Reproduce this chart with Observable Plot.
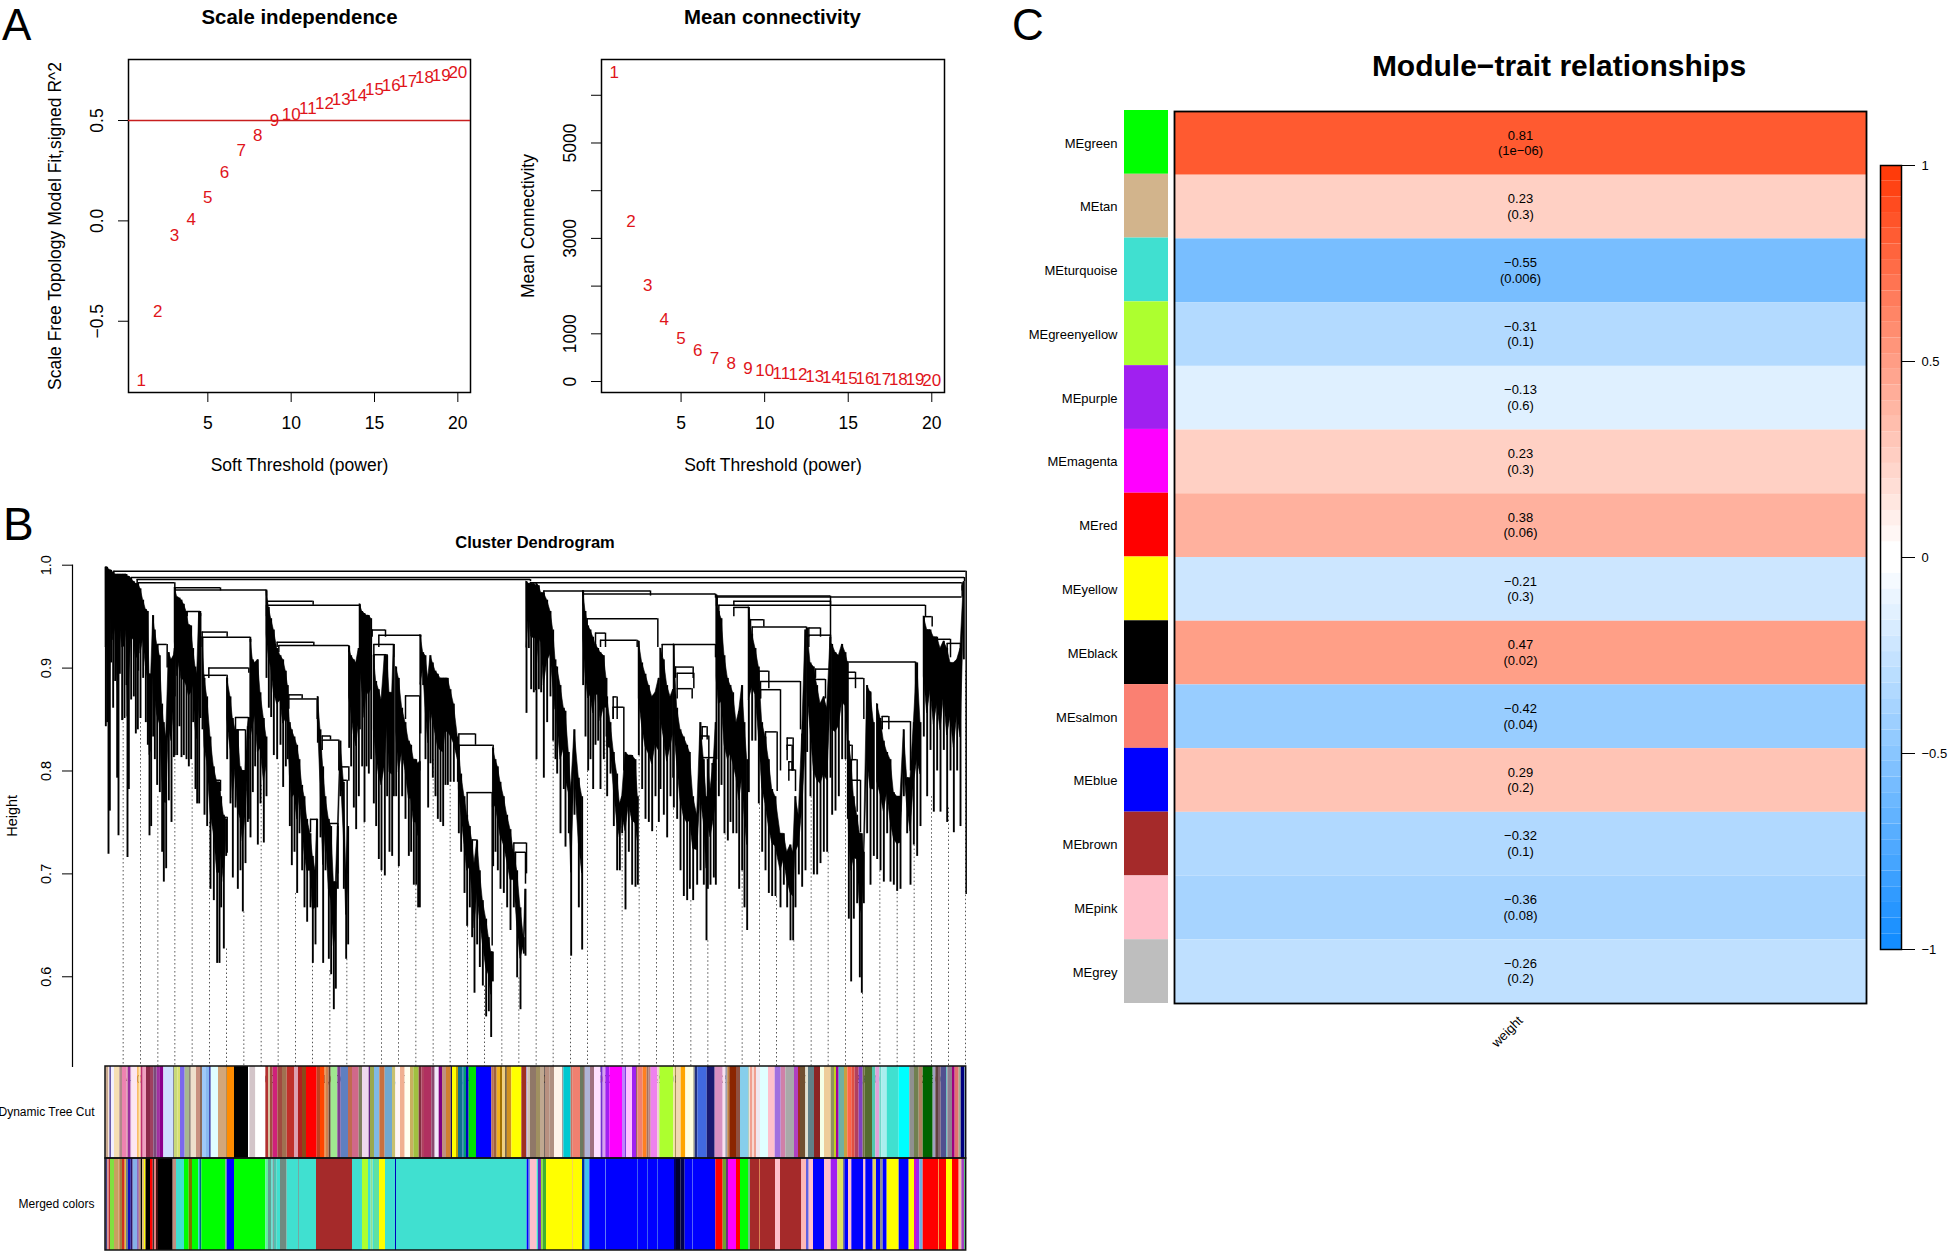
<!DOCTYPE html>
<html><head><meta charset="utf-8">
<script src="https://cdn.jsdelivr.net/npm/d3@7"></script>
<script src="https://cdn.jsdelivr.net/npm/@observablehq/plot@0.6"></script>
<style>
html,body{margin:0;padding:0;background:#fff;overflow:hidden}
#page{position:relative;width:1951px;height:1252px;font-family:"Liberation Sans",Arial,sans-serif;color:#000}
#page>svg{position:absolute;overflow:visible}
.t{position:absolute;white-space:nowrap;line-height:1}
</style></head><body><div id="page"></div>
<script>
// ---------- Panel A ----------
const powers=[1,2,3,4,5,6,7,8,9,10,11,12,13,14,15,16,17,18,19,20];
const scaleFit=[-.793,-.45,-.071,.006,.118,.242,.352,.425,.498,.53,.558,.583,.605,.625,.655,.674,.696,.713,.726,.738];
const meanConn=[6478,3360,2012,1300,895,650,475,370,280,230,175,147,112,90,72,60,50,42,35,30];
// ---------- Panel B : dendrogram: [leaf position, top height, bottom height]
const cl01=[[316,.998,.843],[320,.998,.847],[324,.996,.719],[328,.995,.761],[332,.995,.905],[338,.993,.861],[344,.991,.887],[350,.991,.793],[354,.991,.737],[358,.991,.894],[365,.991,.849],[372,.991,.851],[378,.991,.883],[381,.989,.716],[385,.989,.782],[392,.987,.869],[400,.984,.872],[406,.982,.836],[412,.982,.84]];
const cl02=[[413,.982,.897],[420,.977,.851],[428,.966,.89],[436,.957,.847],[442,.955,.825],[447,.894,.737],[452,.894,.746],[458,.951,.833],[463,.937,.811],[470,.923,.786],[478,.912,.779],[485,.865,.721],[490,.847,.692],[497,.833,.705],[505,.915,.771],[513,.908,.75],[520,.912,.813],[523,.919,.815]];
const cl03=[[523,.978,.872],[530,.969,.815],[537,.968,.843],[543,.966,.813],[550,.962,.815],[558,.955,.811],[565,.942,.804],[572,.941,.811],[578,.919,.847],[585,.901,.782],[590,.894,.768],[596,.955,.768],[600,.953,.851]];
const cl04=[[606,.93,.84],[612,.89,.757],[620,.872,.746],[630,.833,.685],[640,.804,.674],[650,.789,.613],[657,.789,.613],[662,.775,.667],[670,.757,.627],[677,.753,.717]];
const cl05=[[680,.89,.811],[690,.872,.768],[697,.851,.696],[705,.84,.764],[712,.84,.685],[720,.804,.703],[727,.8,.663],[735,.8,.71],[742,.843,.75],[745,.852,.753]];
const cl06=[[750,.928,.735],[757,.908,.779],[764,.905,.804],[772,.908,.728],[780,.876,.768],[790,.851,.73],[798,.833,.775]];
const cl07=[[798,.975,.89],[805,.959,.861],[812,.948,.852],[820,.937,.815],[830,.919,.811],[840,.912,.825],[848,.908,.784],[856,.897,.804],[862,.883,.811],[868,.847,.746],[874,.84,.708],[882,.833,.721],[890,.825,.681],[897,.811,.739],[905,.786,.703],[912,.775,.667],[920,.753,.653],[930,.739,.667],[937,.717,.613],[945,.703,.631],[950,.753,.667]];
const cl08=[[952,.872,.827],[960,.84,.735],[968,.804,.613],[975,.775,.703],[985,.753,.617],[992,.746,.602],[1000,.692,.568],[1006,.692,.588],[1012,.746,.685],[1020,.829,.775],[1030,.789,.685],[1037,.703,.617],[1043,.746,.631]];
const cl09=[[1046,.921,.822],[1052,.912,.804],[1060,.908,.764],[1067,.905,.743],[1075,.919,.775]];
const cl10=[[1078,.962,.84],[1085,.955,.804],[1092,.953,.75],[1098,.951,.804],[1105,.951,.797],[1112,.948,.811]];
const cl11=[[1120,.912,.768],[1127,.887,.746],[1135,.879,.714],[1143,.869,.703],[1153,.912,.698],[1160,.912,.775],[1167,.876,.721],[1175,.876,.717],[1180,.923,.775]];
const cl12=[[1187,.901,.775],[1195,.89,.707],[1205,.861,.775],[1215,.847,.753],[1225,.829,.717],[1232,.825,.721],[1240,.811,.689],[1247,.811,.689],[1253,.807,.667],[1258,.809,.667]];
const cl13=[[1260,.932,.836],[1268,.915,.883],[1275,.912,.811],[1283,.89,.764],[1290,.912,.807],[1297,.905,.793],[1305,.897,.775],[1312,.894,.753],[1320,.89,.75],[1328,.89,.746],[1335,.89,.786],[1342,.89,.786],[1350,.879,.789],[1360,.865,.789],[1372,.833,.789]];
const cl14=[[1375,.825,.739],[1382,.797,.721],[1392,.775,.681],[1400,.757,.649],[1408,.746,.667],[1415,.732,.638],[1422,.71,.584],[1430,.732,.631],[1438,.703,.609],[1447,.674,.591],[1457,.656,.561],[1465,.638,.566],[1472,.624,.541],[1477,.624,.595]];
const cl15=[[1478,.822,.707],[1485,.811,.721],[1492,.804,.703],[1500,.789,.685],[1510,.775,.681],[1520,.757,.667],[1530,.743,.645],[1540,.721,.667],[1550,.703,.599],[1560,.667,.568],[1570,.638,.622],[1575,.685,.62]];
const cl16=[[1578,.984,.856],[1585,.982,.919],[1592,.982,.879],[1600,.982,.876],[1606,.98,.878]];
const cl17=[[1608,.982,.811],[1615,.98,.879],[1622,.973,.876],[1630,.973,.793],[1640,.966,.847],[1650,.955,.872],[1658,.937,.829],[1665,.908,.811]];
const cl18=[[1670,.901,.797],[1680,.883,.739],[1690,.861,.782],[1695,.858,.726],[1705,.818,.739],[1712,.782,.62],[1722,.84,.757],[1735,.793,.667],[1745,.775,.626]];
const cl19=[[1748,.975,.883],[1755,.955,.833],[1763,.941,.8],[1770,.937,.811],[1778,.93,.782],[1785,.923,.825],[1793,.919,.829],[1800,.915,.782],[1810,.912,.811],[1818,.89,.833]];
const cl20=[[1820,.872,.775],[1830,.847,.797],[1840,.818,.746],[1850,.797,.703],[1858,.768,.703],[1865,.775,.739],[1875,.818,.665],[1885,.815,.721],[1895,.815,.689],[1905,.811,.687],[1912,.775,.689]];
const cl21=[[1915,.926,.815],[1925,.905,.782],[1935,.894,.753],[1945,.883,.75],[1955,.872,.741],[1965,.876,.775],[1975,.89,.75]];
const cl22=[[1980,.919,.782],[1990,.908,.757],[2000,.883,.735],[2010,.872,.775],[2018,.879,.793]];
const cl23=[[2020,.923,.764],[2030,.861,.753],[2040,.84,.703],[2050,.833,.678],[2060,.825,.674],[2068,.818,.685],[2078,.775,.674],[2090,.757,.689],[2100,.847,.703],[2110,.811,.689],[2118,.775,.635]];
const cl24=[[2122,.811,.685],[2130,.782,.689],[2140,.811,.696],[2146,.847,.689]];
const cl25=[[2148,.971,.811],[2155,.955,.775],[2163,.948,.786],[2172,.912,.739],[2182,.89,.732],[2190,.883,.75],[2198,.876,.739],[2208,.847,.739],[2216,.858,.685],[2225,.883,.703],[2232,.847,.667],[2240,.811,.645]];
const cl26=[[2245,.959,.779],[2255,.933,.829],[2265,.919,.829],[2275,.901,.768],[2285,.847,.721],[2295,.833,.703],[2305,.811,.681],[2315,.782,.678],[2325,.775,.678],[2340,.739,.667],[2350,.739,.689],[2360,.721,.667],[2370,.728,.635],[2378,.721,.635],[2385,.775,.667],[2395,.757,.699],[2405,.836,.687],[2415,.937,.703]];
const cl27=[[2420,.939,.818],[2430,.905,.775],[2440,.901,.699],[2450,.883,.699],[2460,.865,.71],[2470,.872,.721],[2480,.861,.721],[2490,.93,.793]];
const cl28=[[2495,.923,.757],[2505,.915,.761],[2515,.912,.775],[2525,.923,.811],[2535,.915,.811],[2542,.905,.753]];
const cl29=[[2545,.829,.656],[2552,.811,.595],[2560,.775,.656],[2570,.757,.671],[2578,.739,.599],[2584,.739,.584],[2590,.721,.671],[2600,.883,.739],[2610,.876,.689],[2620,.847,.717]];
const cl30=[[2630,.865,.714],[2640,.851,.703],[2650,.829,.692],[2660,.818,.739],[2670,.811,.692],[2680,.779,.689],[2690,.775,.683],[2700,.775,.685],[2710,.84,.775],[2720,.793,.739],[2730,.793,.689],[2740,.847,.728],[2750,.905,.717],[2760,.847,.746]];
const cl31=[[2770,.95,.833],[2780,.937,.775],[2790,.937,.82],[2800,.93,.76],[2810,.93,.8],[2820,.919,.76],[2830,.926,.82],[2840,.919,.75],[2850,.905,.8],[2860,.905,.74],[2870,.908,.8],[2880,.919,.746],[2890,.984,.908]];
const clusters=[cl01,cl02,cl03,cl04,cl05,cl06,cl07,cl08,cl09,cl10,cl11,cl12,cl13,cl14,cl15,cl16,cl17,cl18,cl19,cl20,cl21,cl22,cl23,cl24,cl25,cl26,cl27,cl28,cl29,cl30,cl31];
// merges: [left leaf, right leaf, merge height, left leg end, right leg end]
const merges=[[340,2897,.994,.99,.68],[392,2892,.988,.984,.984],[410,1590,.986,.982,.984],[1590,2885,.983,.982,.975],[413,523,.983,.97,.975],[523,798,.976,.975,.97],[523,660,.978,.975,.975],[798,1078,.961,.95,.955],[800,938,.965,.96,.961],[835,1045,.922,.915,.915],[830,940,.925,.92,.922],[605,750,.93,.92,.925],[605,680,.935,.93,.93],[625,745,.9,.89,.895],[610,680,.893,.885,.885],[865,950,.87,.86,.85],[865,905,.874,.87,.87],[965,1015,.83,.82,.8],[965,990,.834,.83,.83],[1022,1045,.804,.78,.79],[1025,1040,.791,.78,.7],[930,950,.753,.74,.72],[985,1012,.749,.74,.7],[1135,1260,.932,.92,.93],[1115,1155,.937,.93,.93],[1120,1180,.923,.91,.91],[1120,1160,.913,.9,.9],[1215,1258,.873,.85,.8],[1375,1425,.836,.82,.825],[1375,1478,.825,.8,.82],[1400,1475,.779,.75,.63],[1415,1430,.733,.7,.71],[645,660,.791,.77,.78],[670,680,.755,.73,.72],[705,745,.852,.84,.84],[712,735,.84,.82,.8],[720,735,.8,.78,.78],[560,600,.955,.95,.95],[472,500,.923,.91,.9],[1540,1578,.73,.7,.7],[1545,1575,.721,.7,.69],[1630,1747,.975,.96,.97],[1748,1950,.975,.97,.97],[1748,2145,.972,.96,.968],[1760,1972,.948,.94,.92],[1800,1910,.927,.92,.92],[1785,1815,.934,.92,.92],[1838,1850,.872,.85,.85],[1838,1870,.862,.85,.8],[1985,2145,.923,.91,.91],[2025,2078,.901,.89,.89],[2030,2080,.895,.88,.88],[2030,2075,.88,.87,.87],[2105,2120,.843,.83,.83],[2100,2125,.834,.82,.78],[2105,2145,.813,.8,.8],[2135,2145,.807,.79,.79],[2148,2490,.97,.96,.93],[2150,2885,.969,.96,.98],[2155,2775,.961,.95,.95],[2200,2490,.965,.96,.961],[2200,2245,.959,.95,.95],[2250,2290,.947,.94,.94],[2255,2418,.94,.93,.93],[2425,2490,.932,.92,.92],[2425,2460,.939,.93,.93],[2445,2490,.899,.89,.88],[2440,2475,.889,.88,.87],[2280,2400,.887,.87,.84],[2280,2340,.879,.87,.8],[2275,2305,.897,.88,.88],[2295,2330,.838,.82,.78],[2360,2378,.832,.82,.8],[2360,2375,.825,.81,.8],[2365,2375,.809,.8,.8],[2365,2385,.801,.79,.78],[2540,2745,.906,.89,.85],[2540,2565,.896,.88,.88],[2540,2590,.89,.88,.85],[2600,2610,.877,.86,.86],[2645,2730,.848,.84,.8],[2645,2665,.853,.84,.84],[2720,2725,.793,.78,.78],[2690,2700,.775,.76,.76],[2545,2570,.811,.8,.76],[2545,2555,.825,.81,.81],[2550,2580,.791,.77,.74],[2770,2795,.95,.94,.94],[2810,2850,.928,.92,.91],[2840,2880,.924,.91,.9]];
const guideLeaves=[368,420,472,523,575,627,678,730,782,833,885,936,988,1039,1091,1143,1194,1246,1298,1349,1401,1452,1504,1555,1607,1658,1710,1761,1813,1865,1916,1968,2019,2071,2122,2174,2225,2277,2328,2380,2432,2483,2535,2586,2638,2690,2741,2793,2844,2895];
const guideTops=[.851,.847,.775,.815,.807,.75,.627,.663,.786,.807,.681,.653,.606,.617,.75,.703,.707,.689,.811,.786,.649,.591,.671,.599,.811,.829,.618,.8,.829,.746,.815,.746,.775,.674,.635,.739,.703,.768,.678,.635,.775,.721,.811,.584,.703,.685,.728,.775,.764,.897];
// colour tracks: stripes as [leaf end within stretch, colour]
const stretchStarts=[300,960,1620,2250];
const dynamic1=[[24,"#c9a990"],[28,"#f5e4d4"],[33,"#6a5aa8"],[42,"#f2efff"],[58,"#f5deb3"],[66,"#b08a8a"],[80,"#ee82b0"],[84,"#d090b0"],[92,"#9b30a0"],[96,"#f8e0f0"],[112,"#fde6f0"],[116,"#f5a020"],[122,"#ffe4b0"],[128,"#c03070"],[138,"#f0a0c0"],[150,"#8b2a4a"],[160,"#a04060"],[170,"#7a4a7a"],[178,"#a030a0"],[190,"#8b008b"],[220,"#cfe0ff"],[222,"#556"],[232,"#c8d878"],[240,"#d8e070"],[254,"#7b68ee"],[268,"#a8b890"],[272,"#6a5a50"],[288,"#eedfcc"],[300,"#c89080"],[306,"#8a6a5a"],[318,"#9ec8f8"],[328,"#87b8f0"],[332,"#000090"],[354,"#e0ffff"],[378,"#d2a679"],[380,"#554"],[402,"#ff8c00"],[444,"#000"],[448,"#fff"],[466,"#d3c5c9"],[496,"#fff"],[504,"#b23030"],[510,"#d8c0a0"],[518,"#a05040"],[532,"#d0207a"],[546,"#a04a40"],[560,"#a07050"],[582,"#c0302a"],[594,"#dda0b0"],[606,"#b02020"],[618,"#8a4a1a"],[650,"#f00"],[660,"#c04020"]];
const dynamic2=[[14,"#ff4500"],[18,"#e0a060"],[26,"#d08050"],[32,"#604030"],[52,"#a0e890"],[62,"#804090"],[84,"#5f7fc0"],[96,"#c06a50"],[116,"#d0688a"],[126,"#7f7f60"],[146,"#eed8ee"],[150,"#602080"],[162,"#9aa850"],[178,"#80b8e8"],[194,"#c87040"],[216,"#70a8d0"],[226,"#c8c070"],[240,"#fff5f5"],[254,"#f0b090"],[270,"#fffff0"],[280,"#c8b060"],[296,"#a0c040"],[304,"#803040"],[312,"#b04060"],[334,"#b03060"],[344,"#8a4a70"],[356,"#f0e8f8"],[366,"#800080"],[378,"#c09080"],[392,"#d08030"],[396,"#201050"],[408,"#ff0"],[414,"#c0a000"],[428,"#107090"],[432,"#3090b0"],[438,"#00a070"],[446,"#0000c0"],[468,"#00e000"],[514,"#00f"],[520,"#c07050"],[530,"#a06040"],[540,"#f0b020"],[546,"#a07000"],[556,"#f0d080"],[560,"#321"],[574,"#d09020"],[604,"#ff0"],[618,"#a03020"],[622,"#b0a0d0"],[630,"#d0c0b0"],[648,"#907868"],[660,"#a09060"]];
const dynamic3=[[12,"#c0a890"],[14,"#000"],[28,"#b89080"],[42,"#b09080"],[66,"#fff5ea"],[70,"#a0a0a0"],[92,"#00c8d0"],[98,"#d07060"],[120,"#f08070"],[130,"#6a7a60"],[134,"#604030"],[150,"#b0b4d8"],[162,"#a07080"],[182,"#ffe0ff"],[188,"#7030d0"],[196,"#d8a0f0"],[208,"#a020f0"],[246,"#f0f"],[254,"#c080ff"],[258,"#8040e0"],[276,"#ffc0ff"],[288,"#a020f0"],[292,"#a06060"],[308,"#f08070"],[320,"#ff7f20"],[326,"#a07060"],[332,"#c08080"],[352,"#ee82ee"],[358,"#f0d0d0"],[400,"#adff2f"],[406,"#f0e0a0"],[408,"#806020"],[422,"#f0d8b0"],[436,"#ffa500"],[460,"#ffffe0"],[464,"#a0a080"],[472,"#203080"],[500,"#4169e1"],[524,"#191970"],[548,"#d890c0"],[556,"#f8e0f0"],[562,"#a0a0b0"],[568,"#c08040"],[588,"#8b2500"],[600,"#905040"],[624,"#87ceeb"],[628,"#b0d0c0"],[630,"#f8d8d0"]];
const dynamic4=[[6,"#f0a090"],[12,"#f8d8d0"],[18,"#f0a090"],[30,"#f0e8f0"],[54,"#e0ffff"],[74,"#ffc0cb"],[92,"#a070e0"],[106,"#d080a8"],[132,"#a9a9a9"],[144,"#b040c0"],[150,"#a03020"],[166,"#705030"],[174,"#e0e0d0"],[192,"#608088"],[210,"#8b2525"],[222,"#f5ffe8"],[242,"#eecc9a"],[252,"#909060"],[258,"#c0d020"],[266,"#a000a0"],[270,"#40c0c0"],[282,"#70b0a0"],[292,"#c8a040"],[304,"#ff6347"],[314,"#e05040"],[326,"#b04060"],[338,"#8040c0"],[344,"#707040"],[366,"#556b2f"],[376,"#50c8b0"],[388,"#e0a0d8"],[394,"#70d8c8"],[410,"#aaeeee"],[446,"#40e0d0"],[478,"#0ff"],[492,"#909090"],[506,"#708050"],[518,"#b08060"],[548,"#006400"],[556,"#a0a0c0"],[564,"#604040"],[572,"#806070"],[588,"#505090"],[592,"#70c0c0"],[606,"#908090"],[614,"#a00080"],[626,"#e07070"],[632,"#a0b090"],[642,"#000080"],[648,"#80a0c0"]];
const merged1=[[22,"#404080"],[26,"#e08080"],[30,"#c03030"],[42,"#80e040"],[56,"#c8a060"],[60,"#d09060"],[66,"#a08040"],[74,"#d03020"],[78,"#e0c040"],[84,"#708090"],[92,"#1010c0"],[98,"#301060"],[112,"#87b0e8"],[116,"#7030a0"],[122,"#c09080"],[126,"#000"],[132,"#e0c080"],[136,"#ff0"],[138,"#604000"],[150,"#000"],[158,"#f00"],[162,"#303030"],[168,"#e08080"],[174,"#401010"],[218,"#000"],[228,"#c09080"],[252,"#40e0d0"],[266,"#0f0"],[276,"#807000"],[294,"#0f0"],[298,"#40e0d0"],[304,"#006090"],[376,"#0f0"],[380,"#70a080"],[402,"#00f"],[496,"#0f0"],[504,"#60f0a0"],[514,"#60a090"],[518,"#40e0d0"],[522,"#80a0a0"],[530,"#50c0b0"],[540,"#40e0d0"],[560,"#708a80"],[595,"#40e0d0"],[597,"#50807a"],[648,"#40e0d0"],[660,"#a52a2a"]];
const merged2=[[96,"#a52a2a"],[126,"#40e0d0"],[144,"#adff2f"],[152,"#40e0d0"],[158,"#90e090"],[162,"#40e0d0"],[177,"#60e0a0"],[195,"#ff0"],[225,"#40e0d0"],[228,"#0000c0"],[620,"#40e0d0"],[626,"#00f"],[630,"#70a0d0"],[650,"#ffc0cb"],[654,"#40e0d0"],[660,"#6030c0"]];
const merged3=[[3,"#8030c0"],[8,"#90e030"],[18,"#40b030"],[96,"#ff0"],[98,"#f0a040"],[126,"#ff0"],[134,"#0030a0"],[148,"#40c0f0"],[196,"#00f"],[198,"#4060f0"],[291,"#00f"],[294,"#4060f0"],[321,"#00f"],[324,"#4060f0"],[351,"#00f"],[354,"#4060f0"],[402,"#00f"],[408,"#000060"],[422,"#000030"],[434,"#000050"],[456,"#00f"],[458,"#4060f0"],[526,"#00f"],[548,"#f00"],[558,"#70a030"],[564,"#703080"],[588,"#f0f"],[600,"#f00"],[624,"#0f0"],[630,"#70c080"]];
const merged4=[[27,"#a52a2a"],[29,"#f09020"],[75,"#a52a2a"],[90,"#ffc0cb"],[154,"#a52a2a"],[168,"#ffb8b8"],[176,"#6060e0"],[189,"#ffc0cb"],[222,"#00f"],[242,"#ffc0cb"],[262,"#a020f0"],[280,"#e0e060"],[284,"#303090"],[294,"#00f"],[304,"#ffc0cb"],[340,"#00f"],[346,"#ffc0cb"],[368,"#00f"],[378,"#e0d060"],[390,"#00f"],[398,"#909090"],[410,"#00f"],[446,"#ff0"],[476,"#00f"],[492,"#ff0"],[498,"#d010d0"],[508,"#a020f0"],[518,"#70b0e0"],[565,"#f00"],[567,"#f09020"],[588,"#f00"],[606,"#ff0"],[626,"#f00"],[634,"#f0c0a0"],[642,"#a040c0"],[648,"#60d080"]];
const trackNames=["Dynamic Tree Cut","Merged colors"];
// ---------- Panel C ----------
const modules=["MEgreen","MEtan","MEturquoise","MEgreenyellow","MEpurple","MEmagenta","MEred","MEyellow","MEblack","MEsalmon","MEblue","MEbrown","MEpink","MEgrey"];
const moduleColors=["#00ff00","#d2b48c","#40e0d0","#adff2f","#a020f0","#ff00ff","#ff0000","#ffff00","#000000","#fa8072","#0000ff","#a52a2a","#ffc0cb","#bebebe"];
const correlations=[.81,.23,-.55,-.31,-.13,.23,.38,-.21,.47,-.42,.29,-.32,-.36,-.26];
const pValues=["1e−06","0.3","0.006","0.1","0.6","0.3","0.06","0.3","0.02","0.04","0.2","0.1","0.08","0.2"];
const legendTicks=[-1,-.5,0,.5,1];
const legendEdges=d3.range(-1,1,.04);

const FONT='"Liberation Sans",Arial,sans-serif';
const page=document.getElementById("page");
function place(svg,left,top){svg.style.left=left+"px";svg.style.top=top+"px";page.appendChild(svg);return svg;}
function label(txt,x,y,size,opts={}){const d=document.createElement("div");d.className="t";d.textContent=txt;
  d.style.fontSize=size+"px";d.style.fontWeight=opts.bold?"bold":"normal";d.style.top=(y-size*0.5)+"px";
  if(opts.center){d.style.left=x+"px";d.style.transform="translateX(-50%)";}else d.style.left=x+"px";
  page.appendChild(d);}
const base={style:{fontFamily:FONT,background:"transparent",color:"#000",overflow:"visible"}};
const RED="#e0141a";

function powerPlot(values,left,width,mL,mR,yDomain,yTicks,yFmt,yLabel,yOff,extra){
  return place(Plot.plot({...base,width,height:480,marginLeft:mL,marginRight:mR,marginTop:59,marginBottom:88,
    x:{domain:[.24,20.76]},y:{domain:yDomain},
    marks:[
      Plot.frame({stroke:"#000",strokeWidth:1.5}),
      ...extra,
      Plot.axisX({ticks:[5,10,15,20],tickSize:10,tickPadding:14,fontSize:17.5,label:"Soft Threshold (power)",labelAnchor:"center",labelArrow:"none",labelOffset:78,stroke:"#000"}),
      Plot.axisY({ticks:yTicks,tickFormat:yFmt,tickSize:10,tickRotate:-90,tickPadding:16,fontSize:17.5,textAnchor:"middle",label:yLabel,labelAnchor:"center",labelArrow:"none",labelOffset:yOff,stroke:"#000"}),
      Plot.text(powers,{x:d=>d,y:(d,i)=>values[i],text:d=>String(d),fill:RED,fontSize:17})
    ]}),left,0);
}
powerPlot(scaleFit,0,500,128,30,[-.855,.804],[-.5,0,.5],d3.format(".1f"),"Scale Free Topology Model Fit,signed R^2",80,
  [Plot.ruleY([.5],{stroke:"#c81e1e",strokeWidth:1.5})]);
powerPlot(meanConn,500,480,101,36,[-230,6750],[0,1000,2000,3000,4000,5000,6000],d=>[0,1000,3000,5000].includes(d)?String(d):"","Mean Connectivity",80,[]);
label("A",2,24.6,44);label("B",3,524,46);label("C",1012,24.6,44);
label("Scale independence",299.5,17,20.4,{bold:true,center:true});
label("Mean connectivity",772.5,17,20.4,{bold:true,center:true});
label("Module−trait relationships",1559,66,30,{bold:true,center:true});
label("Cluster Dendrogram",535,542.5,16.5,{bold:true,center:true});

// Panel B dendrogram
const clusterRows=clusters.flatMap((c,w)=>c.map(([x,top,bottom])=>({w,x,top,bottom,core:top-(top-bottom)*.5})));
const mergeRows=merges.map(([x1,x2,h,b1,b2])=>({x1,x2,h,b1,b2}));
const guideRows=guideLeaves.map((x,i)=>({x,top:guideTops[i]}));
const yBottom=.5128;
place(Plot.plot({...base,width:1000,height:568,marginLeft:72,marginRight:34.33,marginTop:64.7,marginBottom:2,
  x:{domain:[315,2897],range:[105,965.67]},y:{domain:[yBottom,1]},
  marks:[
    Plot.ruleX(guideRows,{x:"x",y1:"top",y2:yBottom,stroke:"#555",strokeWidth:1,strokeDasharray:"1.5 2.5"}),
    Plot.area(clusterRows,{x1:"x",y1:"top",y2:"core",z:"w",fill:"#000",curve:"linear",stroke:"#000",strokeWidth:.6}),
    Plot.ruleX(clusterRows,{x:"x",y1:"top",y2:"bottom",stroke:"#000",strokeWidth:1.9}),
    Plot.ruleY(mergeRows,{x1:"x1",x2:"x2",y:"h",stroke:"#000",strokeWidth:1.5}),
    Plot.ruleX(mergeRows,{x:"x1",y1:"h",y2:"b1",stroke:"#000",strokeWidth:1.5}),
    Plot.ruleX(mergeRows,{x:"x2",y1:"h",y2:"b2",stroke:"#000",strokeWidth:1.5}),
    Plot.frame({anchor:"left",stroke:"#000",strokeWidth:1.2}),
    Plot.axisY({ticks:[.6,.7,.8,.9,1],tickFormat:d3.format(".1f"),tickSize:10,tickRotate:-90,tickPadding:12,fontSize:14.5,textAnchor:"middle",label:"Height",labelAnchor:"center",labelArrow:"none",labelOffset:66,stroke:"#000"})
  ]}),0,500);

function stripes(parts,track){let prev=316;return parts.flatMap((p,i)=>p.map(([end,color])=>{const x2=stretchStarts[i]+end;const r={track,x1:prev,x2,color};prev=x2;return r;}));}
const trackRows=[...stripes([dynamic1,dynamic2,dynamic3,dynamic4],trackNames[0]),...stripes([merged1,merged2,merged3,merged4],trackNames[1])];
place(Plot.plot({...base,width:1000,height:192,marginLeft:105,marginRight:34.33,marginTop:6,marginBottom:2,
  x:{domain:[315,2897],axis:null},y:{domain:trackNames,padding:0,round:false},
  marks:[
    Plot.barX(trackRows,{x1:"x1",x2:"x2",y:"track",fill:{value:"color",scale:null},inset:0}),
    Plot.cell(trackNames,{y:d=>d,stroke:"#111",strokeWidth:1.5,fill:"none"}),
    Plot.axisY({tickSize:0,tickPadding:11,fontSize:12,label:null})
  ]}),0,1060);

// Panel C
place(Plot.plot({...base,width:168,height:1005,marginLeft:124,marginRight:0,marginTop:110,marginBottom:2,
  y:{domain:modules,padding:0,round:false},
  marks:[
    Plot.cell(modules,{y:d=>d,fill:{value:(d,i)=>moduleColors[i],scale:null}}),
    Plot.axisY({tickSize:0,tickPadding:7,fontSize:13,label:null,dy:1})
  ]}),1000,0);
const colorOpts={type:"linear",domain:[-1,0,1],range:["#0a88ff","#ffffff","#ff3300"],interpolate:"rgb"};
place(Plot.plot({...base,width:700,height:1090,marginLeft:4,marginRight:4,marginTop:111,marginBottom:87,
  x:{domain:["weight"],padding:0,round:false},y:{domain:modules,padding:0,round:false,axis:null},color:colorOpts,
  marks:[
    Plot.cell(modules,{x:()=>"weight",y:d=>d,fill:(d,i)=>correlations[i]}),
    Plot.text(modules,{x:()=>"weight",y:d=>d,dy:-1,text:(d,i)=>`${d3.format(".2f")(correlations[i])}\n(${pValues[i]})`,fontSize:13,lineHeight:1.2,fill:"#000"}),
    Plot.frame({stroke:"#000",strokeWidth:1.8}),
    Plot.axisX({tickSize:0,tickRotate:-45,tickPadding:15,fontSize:13,label:null})
  ]}),1170,0);
const legendRows=legendEdges.map(v=>{const lo=+v.toFixed(2),hi=+(v+.04).toFixed(2);return {lo,hi,fill:lo>=0?lo:hi};});
place(Plot.plot({...base,width:91,height:830,marginLeft:20,marginRight:50,marginTop:25,marginBottom:21,
  y:{domain:[-1,1]},color:colorOpts,
  marks:[
    Plot.rect(legendRows,{y1:"lo",y2:"hi",fill:"fill"}),
    Plot.frame({stroke:"#000",strokeWidth:1.5}),
    Plot.axisY({anchor:"right",ticks:legendTicks,tickFormat:d=>d3.format("")(d),tickSize:13,tickPadding:7,fontSize:13,label:null,stroke:"#000"})
  ]}),1860,140);
</script></body></html>
